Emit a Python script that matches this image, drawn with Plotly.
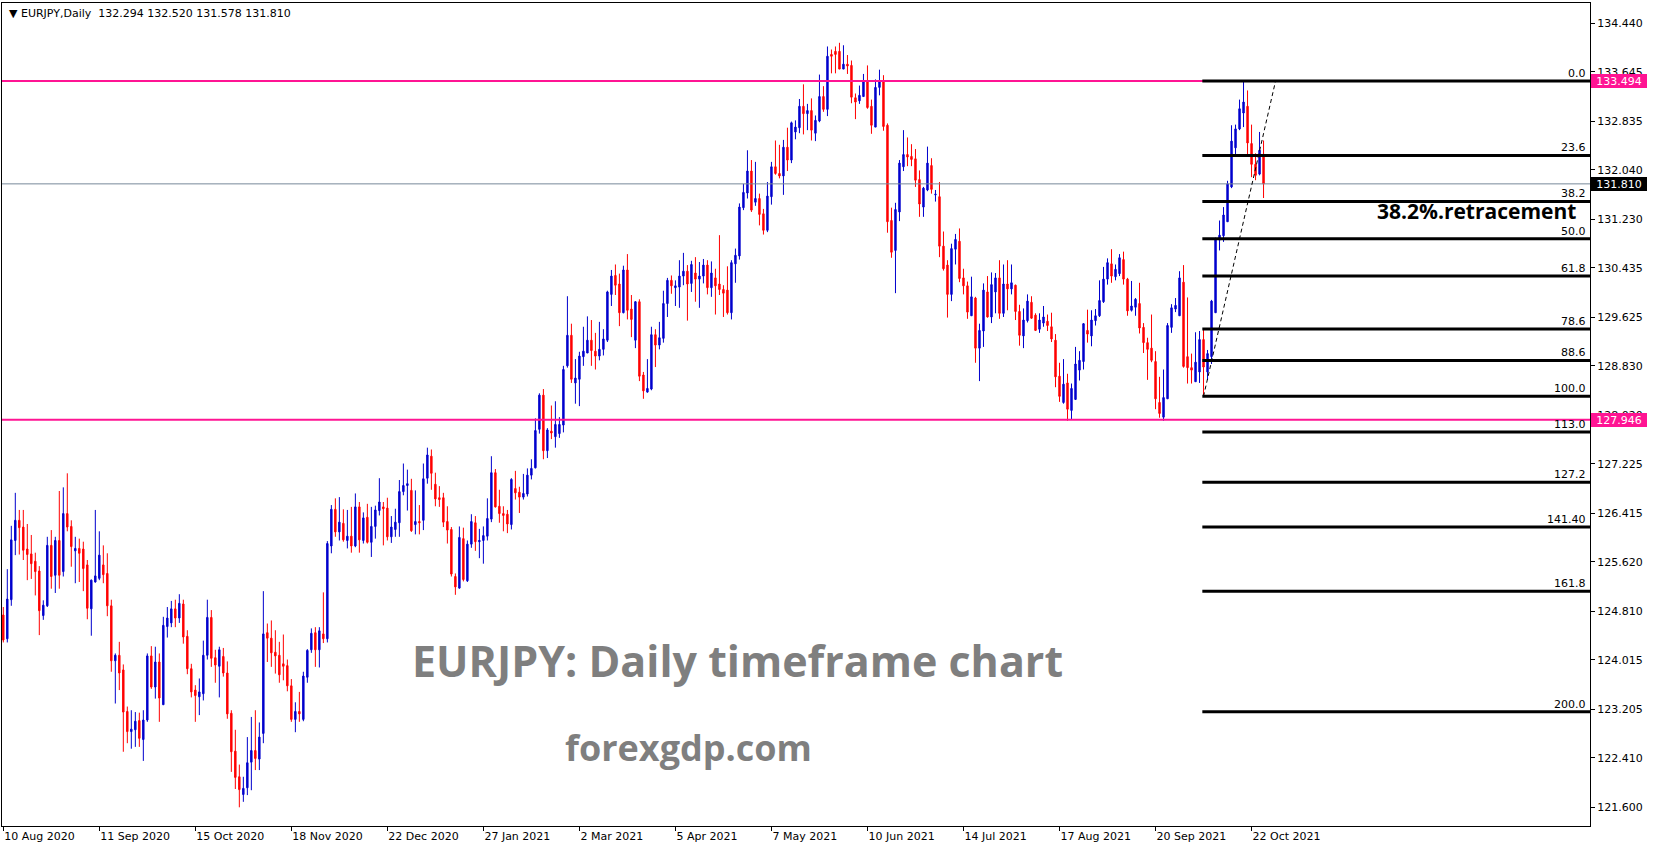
import plotly.graph_objects as go

symbol = "EURJPY"
timeframe = "Daily"

open_ = [
    124.75, 124.36, 125.00, 125.97, 126.30, 126.19, 125.83, 125.75, 125.63, 125.47,
    124.74, 124.90, 125.89, 125.40, 125.97, 125.46, 126.41, 126.20, 125.80, 125.84,
    125.83, 125.57, 124.85, 125.29, 125.35, 125.57, 125.43, 124.90, 124.00, 124.09,
    123.85, 123.17, 122.84, 122.87, 123.02, 122.71, 123.03, 124.08, 123.57, 123.98,
    123.28, 124.56, 124.62, 124.85, 124.70, 124.93, 124.40, 123.87, 123.52, 123.41,
    123.46, 124.09, 124.71, 124.05, 123.91, 124.07, 123.80, 123.14, 122.52, 122.10,
    121.81, 121.92, 122.34, 122.53, 122.39, 122.81, 124.46, 124.37, 124.14, 124.09,
    123.95, 123.92, 123.59, 123.04, 123.17, 123.04, 123.73, 124.18, 124.46, 124.18,
    124.44, 124.36, 125.88, 126.48, 126.11, 126.25, 125.97, 126.04, 125.88, 126.52,
    125.97, 126.35, 125.94, 126.20, 126.46, 126.52, 126.50, 126.03, 126.15, 126.26,
    126.77, 126.87, 126.79, 126.23, 126.28, 126.30, 126.99, 127.35, 126.89, 126.67,
    126.67, 126.28, 126.15, 125.38, 125.19, 126.00, 125.31, 125.91, 126.26, 125.95,
    125.97, 126.04, 126.32, 127.08, 126.53, 126.41, 126.40, 126.23, 126.82, 126.76,
    126.68, 126.73, 127.04, 127.16, 127.79, 128.35, 127.44, 127.76, 127.67, 127.72,
    127.86, 128.83, 129.33, 128.55, 128.61, 128.98, 129.04, 129.25, 129.07, 128.99,
    129.10, 129.25, 130.00, 130.31, 130.17, 129.70, 130.40, 129.76, 129.25, 129.88,
    128.68, 128.40, 128.45, 129.34, 129.17, 129.28, 129.85, 130.23, 130.11, 130.12,
    130.30, 130.38, 130.18, 130.35, 130.25, 130.30, 130.48, 130.11, 130.27, 130.17,
    130.08, 130.07, 129.70, 130.50, 130.63, 131.42, 131.66, 132.02, 131.51, 131.57,
    131.32, 131.05, 131.60, 132.09, 131.98, 131.94, 132.41, 132.20, 132.66, 132.73,
    133.08, 132.96, 133.01, 132.64, 132.84, 133.24, 133.03, 133.93, 133.98, 133.98,
    133.69, 133.77, 133.75, 133.22, 133.17, 133.24, 133.49, 133.08, 132.74, 133.39,
    133.48, 132.77, 131.21, 130.72, 131.35, 132.09, 132.29, 132.26, 132.22, 131.88,
    131.43, 131.71, 132.11, 131.63, 131.60, 130.79, 130.48, 130.00, 130.74, 130.87,
    130.27, 130.14, 129.65, 129.94, 129.12, 129.40, 130.04, 129.63, 130.04, 130.27,
    129.69, 130.17, 130.09, 130.15, 129.72, 129.32, 129.57, 129.87, 129.66, 129.43,
    129.53, 129.56, 129.47, 129.25, 128.66, 128.23, 128.55, 128.10, 128.28, 128.76,
    128.90, 129.41, 129.32, 129.57, 129.65, 129.88, 130.25, 130.50, 130.29, 130.34,
    130.57, 130.25, 129.74, 129.79, 129.85, 129.46, 129.21, 129.12, 128.90, 128.23,
    127.99, 128.29, 129.46, 129.76, 129.65, 130.20, 128.98, 128.80, 128.57, 128.73,
    129.26, 128.73, 128.98, 129.70, 130.89, 130.96, 131.19, 131.76, 132.40, 132.71,
    132.97, 133.08, 132.47, 132.13, 131.97, 132.294,
]
high_ = [
    124.88, 125.50, 126.21, 126.75, 126.47, 126.47, 126.24, 126.06, 125.77, 125.55,
    124.99, 126.03, 126.14, 126.03, 126.78, 126.84, 127.07, 126.30, 126.03, 126.00,
    125.95, 125.65, 125.33, 126.47, 126.12, 125.89, 125.76, 125.00, 124.12, 124.31,
    123.94, 123.25, 123.19, 123.16, 123.15, 123.19, 124.12, 124.24, 124.23, 124.12,
    124.72, 124.88, 124.98, 125.00, 125.09, 125.00, 124.50, 123.95, 123.60, 123.71,
    124.33, 125.00, 124.83, 124.18, 124.23, 124.21, 123.99, 123.19, 122.87, 122.30,
    122.10, 122.75, 123.08, 123.19, 122.99, 125.14, 124.61, 124.66, 124.50, 124.31,
    124.43, 124.02, 123.70, 123.32, 123.49, 123.82, 124.19, 124.53, 124.55, 124.55,
    125.12, 125.96, 126.55, 126.66, 126.68, 126.48, 126.47, 126.52, 126.74, 126.60,
    126.43, 126.57, 126.52, 126.54, 126.99, 126.60, 126.67, 126.37, 126.49, 126.96,
    127.23, 127.13, 126.98, 126.79, 126.55, 127.23, 127.49, 127.46, 127.08, 126.86,
    126.75, 126.53, 126.19, 125.43, 126.20, 126.18, 125.97, 126.40, 126.37, 126.16,
    126.20, 126.66, 127.35, 127.14, 126.80, 126.53, 126.47, 126.99, 127.11, 126.85,
    127.06, 127.15, 127.30, 127.97, 128.38, 128.45, 127.81, 128.18, 128.25, 127.99,
    128.83, 129.97, 129.52, 128.94, 129.06, 129.47, 129.64, 129.58, 129.37, 129.55,
    129.43, 130.06, 130.40, 130.49, 130.34, 130.47, 130.66, 129.99, 129.89, 129.92,
    128.73, 128.94, 129.47, 129.43, 129.55, 130.06, 130.27, 130.31, 130.23, 130.56,
    130.68, 130.48, 130.55, 130.61, 130.53, 130.58, 130.56, 130.54, 130.42, 130.97,
    130.15, 130.46, 130.56, 130.75, 131.49, 131.81, 132.36, 132.20, 132.17, 131.65,
    131.40, 131.84, 132.17, 132.52, 132.45, 132.53, 132.73, 132.83, 132.85, 133.20,
    133.44, 133.12, 133.21, 132.93, 133.60, 133.41, 134.06, 134.01, 134.06, 134.12,
    134.08, 133.92, 133.83, 133.29, 133.42, 133.61, 133.75, 133.19, 133.52, 133.68,
    133.59, 132.80, 131.42, 131.50, 132.20, 132.69, 132.57, 132.46, 132.38, 132.03,
    131.76, 132.42, 132.23, 131.71, 131.84, 131.03, 130.56, 130.83, 130.99, 131.08,
    130.42, 130.21, 130.29, 129.96, 129.52, 130.18, 130.30, 130.36, 130.35, 130.56,
    130.49, 130.56, 130.49, 130.16, 129.83, 129.77, 130.00, 129.97, 129.69, 129.69,
    129.81, 129.67, 129.70, 129.35, 128.88, 128.94, 128.70, 128.54, 129.14, 129.07,
    129.53, 129.75, 129.74, 129.76, 130.23, 130.45, 130.59, 130.74, 130.49, 130.66,
    130.70, 130.27, 130.22, 129.94, 130.19, 129.53, 129.29, 129.67, 129.07, 128.65,
    128.77, 129.53, 129.84, 129.94, 130.38, 130.48, 129.95, 129.03, 129.38, 129.40,
    129.42, 129.09, 129.91, 130.93, 131.21, 131.43, 131.86, 132.77, 132.78, 133.19,
    133.49, 133.34, 132.78, 132.31, 132.66, 132.520,
]
low_ = [
    124.30, 124.30, 124.90, 125.73, 125.74, 125.65, 125.32, 125.34, 125.07, 124.42,
    124.67, 124.88, 125.18, 125.11, 125.18, 125.38, 126.12, 125.54, 125.27, 125.29,
    125.14, 124.68, 124.41, 125.28, 125.32, 125.27, 124.73, 123.82, 123.30, 123.52,
    122.51, 122.65, 122.56, 122.59, 122.59, 122.36, 123.00, 123.54, 123.38, 123.00,
    123.28, 124.38, 124.55, 124.55, 124.62, 124.28, 123.78, 123.40, 123.00, 123.11,
    123.35, 124.02, 123.90, 123.64, 123.40, 123.74, 123.05, 122.18, 121.90, 121.60,
    121.69, 121.80, 121.88, 122.21, 122.21, 122.65, 123.98, 123.90, 123.79, 123.64,
    123.68, 123.50, 123.00, 122.83, 123.00, 123.01, 123.64, 124.13, 123.90, 123.89,
    124.29, 124.30, 125.76, 126.03, 125.97, 125.95, 125.84, 125.77, 125.86, 125.77,
    125.92, 125.92, 125.70, 126.00, 126.38, 125.89, 125.97, 125.93, 126.03, 126.03,
    126.71, 126.46, 126.11, 126.07, 126.07, 126.14, 126.90, 126.80, 126.53, 126.52,
    126.19, 125.92, 125.38, 125.08, 125.18, 125.30, 125.29, 125.85, 125.80, 125.68,
    125.59, 125.97, 126.27, 126.51, 126.26, 126.12, 126.09, 126.15, 126.64, 126.42,
    126.64, 126.69, 126.97, 127.15, 127.72, 127.30, 127.32, 127.63, 127.49, 127.65,
    127.74, 128.80, 128.55, 128.21, 128.17, 128.83, 129.04, 128.83, 128.77, 128.92,
    129.00, 129.22, 129.81, 129.99, 129.48, 129.69, 129.59, 129.30, 129.12, 128.58,
    128.29, 128.39, 128.43, 128.81, 129.10, 129.21, 129.63, 130.01, 129.81, 129.78,
    130.15, 129.57, 130.04, 129.88, 129.78, 130.18, 130.00, 129.96, 129.67, 129.99,
    129.63, 129.67, 129.59, 130.19, 130.57, 131.38, 131.57, 131.35, 131.45, 131.13,
    130.98, 131.02, 131.47, 131.96, 131.90, 131.63, 132.02, 132.15, 132.54, 132.64,
    132.62, 132.69, 132.52, 132.51, 132.82, 132.99, 132.92, 133.62, 133.62, 133.69,
    133.69, 133.61, 133.13, 132.87, 133.12, 133.24, 133.04, 132.63, 132.74, 133.26,
    132.68, 131.01, 130.60, 130.02, 131.20, 132.02, 132.10, 132.10, 131.76, 131.27,
    131.27, 131.69, 131.65, 131.52, 130.61, 130.39, 129.62, 129.89, 130.49, 130.20,
    130.00, 129.60, 129.65, 128.88, 128.58, 129.14, 129.62, 129.53, 129.69, 129.60,
    129.63, 129.74, 130.00, 129.58, 129.16, 129.12, 129.54, 129.60, 129.40, 129.37,
    129.47, 129.40, 129.22, 128.48, 128.24, 128.21, 127.93, 127.95, 128.27, 128.59,
    128.77, 129.21, 129.15, 129.49, 129.63, 129.86, 130.16, 130.19, 130.23, 130.30,
    130.16, 129.65, 129.72, 129.65, 129.36, 129.04, 128.60, 128.89, 128.12, 127.98,
    127.93, 128.29, 129.37, 129.71, 129.65, 128.80, 128.54, 128.54, 128.57, 128.55,
    128.35, 128.60, 128.86, 129.70, 130.72, 130.86, 131.19, 131.74, 132.25, 132.69,
    132.74, 132.29, 131.92, 131.87, 131.95, 131.578,
]
close_ = [
    124.34, 125.01, 125.98, 126.30, 126.18, 125.81, 125.74, 125.59, 125.46, 124.82,
    124.91, 125.89, 125.38, 125.97, 125.40, 126.41, 126.19, 125.87, 125.84, 125.76,
    125.51, 124.86, 125.32, 125.39, 125.73, 125.41, 124.90, 124.00, 124.09, 123.80,
    123.16, 122.84, 122.88, 123.01, 122.73, 123.03, 124.08, 123.57, 123.98, 123.39,
    124.58, 124.70, 124.85, 124.70, 124.94, 124.39, 123.87, 123.49, 123.43, 123.49,
    124.09, 124.71, 124.04, 123.93, 124.18, 123.80, 123.13, 122.51, 122.09, 121.89,
    121.91, 122.33, 122.53, 122.40, 122.75, 124.44, 124.37, 124.13, 124.08, 123.77,
    123.91, 123.59, 123.04, 123.17, 123.13, 123.75, 124.17, 124.45, 124.18, 124.49,
    124.36, 125.92, 126.48, 126.11, 126.27, 125.98, 126.04, 125.88, 126.52, 125.98,
    126.34, 125.94, 126.20, 126.47, 126.60, 126.49, 126.03, 126.19, 126.27, 126.77,
    126.87, 126.90, 126.13, 126.28, 126.26, 126.98, 127.37, 127.07, 126.65, 126.64,
    126.27, 126.14, 125.42, 125.21, 126.02, 125.33, 125.91, 126.28, 125.95, 125.97,
    126.05, 126.33, 127.08, 126.52, 126.41, 126.38, 126.24, 126.97, 126.75, 126.68,
    126.74, 127.04, 127.15, 127.77, 128.35, 127.44, 127.78, 127.73, 127.87, 127.87,
    128.77, 129.33, 128.61, 128.63, 128.99, 129.07, 129.25, 129.08, 128.99, 129.10,
    129.27, 130.04, 130.30, 130.15, 129.70, 130.40, 129.74, 129.59, 129.88, 128.66,
    128.42, 128.46, 129.34, 129.17, 129.29, 129.85, 130.23, 130.14, 130.14, 130.30,
    130.38, 130.17, 130.49, 130.25, 130.30, 130.48, 130.11, 130.35, 130.14, 130.08,
    130.02, 129.70, 130.52, 130.64, 131.43, 131.67, 132.02, 131.38, 131.57, 131.31,
    131.05, 131.61, 132.09, 131.98, 131.94, 132.41, 132.20, 132.81, 132.74, 133.08,
    132.96, 133.01, 132.69, 132.85, 133.24, 133.03, 133.90, 133.90, 133.93, 133.69,
    133.77, 133.74, 133.23, 133.15, 133.26, 133.49, 133.06, 132.77, 133.39, 133.48,
    132.75, 131.19, 130.69, 131.39, 132.15, 132.29, 132.25, 132.21, 131.87, 131.48,
    131.74, 132.15, 131.72, 131.64, 130.79, 130.42, 130.00, 130.75, 130.90, 130.26,
    130.14, 129.71, 129.96, 129.12, 129.41, 130.07, 129.63, 130.16, 130.27, 129.69,
    130.17, 130.09, 130.19, 129.72, 129.33, 129.58, 129.89, 129.61, 129.41, 129.58,
    129.63, 129.49, 129.27, 128.65, 128.33, 128.53, 128.12, 128.46, 128.86, 128.92,
    129.52, 129.35, 129.58, 129.65, 129.90, 130.25, 130.52, 130.30, 130.41, 130.60,
    130.25, 129.73, 129.81, 129.92, 129.45, 129.21, 129.10, 128.92, 128.29, 128.05,
    128.31, 129.49, 129.78, 129.82, 130.27, 128.82, 128.80, 128.76, 128.89, 129.26,
    128.81, 129.03, 129.89, 130.89, 130.97, 131.30, 131.81, 132.51, 132.71, 133.04,
    133.15, 132.48, 132.13, 131.95, 132.36, 131.810,
]

tick_bars = [0, 24, 48, 72, 96, 120, 144, 168, 192, 216, 240, 264, 288, 312]
tick_dates = ["10 Aug 2020", "11 Sep 2020", "15 Oct 2020", "18 Nov 2020", "22 Dec 2020",
              "27 Jan 2021", "2 Mar 2021", "5 Apr 2021", "7 May 2021", "10 Jun 2021",
              "14 Jul 2021", "17 Aug 2021", "20 Sep 2021", "22 Oct 2021"]
price_ticks = [134.440, 133.645, 132.835, 132.040, 131.230, 130.435, 129.625, 128.830,
               128.020, 127.225, 126.415, 125.620, 124.810, 124.015, 123.205, 122.410, 121.600]

resistance = 133.494
support = 127.946

fib_high = 133.494
fib_low = 128.33
fib_low_bar = 300
fib_high_bar = 318
fib_ratios = [0.0, 0.236, 0.382, 0.5, 0.618, 0.786, 0.886, 1.0, 1.113, 1.272, 1.414, 1.618, 2.0]
fib_labels = ["0.0", "23.6", "38.2", "50.0", "61.8", "78.6", "88.6", "100.0", "113.0",
              "127.2", "141.40", "161.8", "200.0"]

main_title = "EURJPY: Daily timeframe chart"
site_text = "forexgdp.com"
retrace_text = "38.2%.retracement"

# ---------------- layout geometry ----------------
W, H = 1653, 850
ML, MR, MT, MB = 2, 63, 3, 24
PW, PH = W - ML - MR, H - MT - MB
x_range = [-0.325, 396.6]
y_range = [121.294, 134.772]


def px_x(p):
    return (p - ML) / PW


def px_y(p):
    return 1 - (p - MT) / PH


BLUE = "#0000cd"
RED = "#ff0000"
PINK = "#ff1493"
GRAY = "#778899"

n = len(close_)
fig = go.Figure(go.Candlestick(
    x=list(range(n)), open=open_, high=high_, low=low_, close=close_,
    increasing=dict(line=dict(color=BLUE, width=1), fillcolor=BLUE),
    decreasing=dict(line=dict(color=RED, width=1), fillcolor=RED),
    whiskerwidth=0, hoverinfo="skip", showlegend=False,
))

shapes = []
for lvl, col, w in [(resistance, PINK, 2), (support, PINK, 2), (close_[-1], GRAY, 1)]:
    shapes.append(dict(type="line", xref="paper", yref="y", x0=0, x1=1, y0=lvl, y1=lvl,
                       line=dict(color=col, width=w)))
span = fib_high - fib_low
annotations = []
for r, lab in zip(fib_ratios, fib_labels):
    p = fib_high - r * span
    shapes.append(dict(type="line", xref="x", yref="y", x0=fib_low_bar - 0.3, x1=x_range[1],
                       y0=p, y1=p, line=dict(color="black", width=3)))
    annotations.append(dict(xref="paper", yref="y", x=1, y=p, xanchor="right", yanchor="bottom",
                            xshift=-2, yshift=-1, text=lab, showarrow=False,
                            font=dict(family="DejaVu Sans", size=11, color="black")))
shapes.append(dict(type="line", xref="x", yref="y", x0=fib_low_bar, y0=fib_low,
                   x1=fib_high_bar, y1=fib_high, line=dict(color="black", width=1, dash="4px,3px")))

# price tags on the right axis
for lvl, bg in [(resistance, PINK), (close_[-1], "black"), (support, PINK)]:
    annotations.append(dict(xref="paper", yref="y", x=1, y=lvl, xanchor="left", yanchor="middle",
                            xshift=1, text=f"{lvl:.3f}", showarrow=False, bgcolor=bg,
                            width=54, height=12, borderpad=1, borderwidth=0, align="center",
                            font=dict(family="DejaVu Sans", size=11, color="white")))

header = (f"▼ {symbol},{timeframe}\u00a0\u00a0{open_[-1]:.3f} {high_[-1]:.3f} "
          f"{low_[-1]:.3f} {close_[-1]:.3f}")
annotations.append(dict(xref="paper", yref="paper", x=px_x(7), y=px_y(13), xanchor="left",
                        yanchor="middle", text=header, showarrow=False,
                        font=dict(family="DejaVu Sans", size=11, color="black")))
annotations.append(dict(xref="paper", yref="paper", x=px_x(410), y=px_y(660), xanchor="left",
                        yanchor="middle", text=f"<b>{main_title}</b>", showarrow=False,
                        font=dict(family="Open Sans", size=43, color="#7f7f7f")))
annotations.append(dict(xref="paper", yref="paper", x=px_x(563), y=px_y(747), xanchor="left",
                        yanchor="middle", text=f"<b>{site_text}</b>", showarrow=False,
                        font=dict(family="Open Sans", size=36, color="#7f7f7f")))
annotations.append(dict(xref="paper", yref="paper", x=px_x(1375), y=px_y(211), xanchor="left",
                        yanchor="middle", text=f"<b>{retrace_text}</b>", showarrow=False,
                        font=dict(family="Open Sans", size=21, color="black")))

fig.update_layout(
    width=W, height=H,
    margin=dict(l=ML, r=MR, t=MT, b=MB, pad=0, autoexpand=False),
    paper_bgcolor="white", plot_bgcolor="white", boxgap=0.5, showlegend=False,
    font=dict(family="DejaVu Sans", size=11, color="black"),
    shapes=shapes, annotations=annotations,
)
fig.update_xaxes(
    range=x_range, rangeslider_visible=False, tickmode="array", tickvals=tick_bars,
    ticktext=tick_dates, ticks="outside", ticklen=4, tickcolor="black", tickwidth=1,
    ticklabelposition="outside right", showline=True, linecolor="black", linewidth=1,
    mirror=True, showgrid=False, zeroline=False, automargin=False,
    tickfont=dict(family="DejaVu Sans", size=11, color="black"),
)
fig.update_yaxes(
    range=y_range, side="right", tickmode="array", tickvals=price_ticks,
    ticktext=[f"{v:.3f}" for v in price_ticks], ticks="outside", ticklen=4, tickcolor="black",
    tickwidth=1, showline=True, linecolor="black", linewidth=1, mirror=True, showgrid=False,
    zeroline=False, automargin=False,
    tickfont=dict(family="DejaVu Sans", size=11, color="black"),
)

fig.write_html("out.html", config={"displayModeBar": False},
               post_script="document.body.style.margin='0';document.body.style.overflow='hidden';")
